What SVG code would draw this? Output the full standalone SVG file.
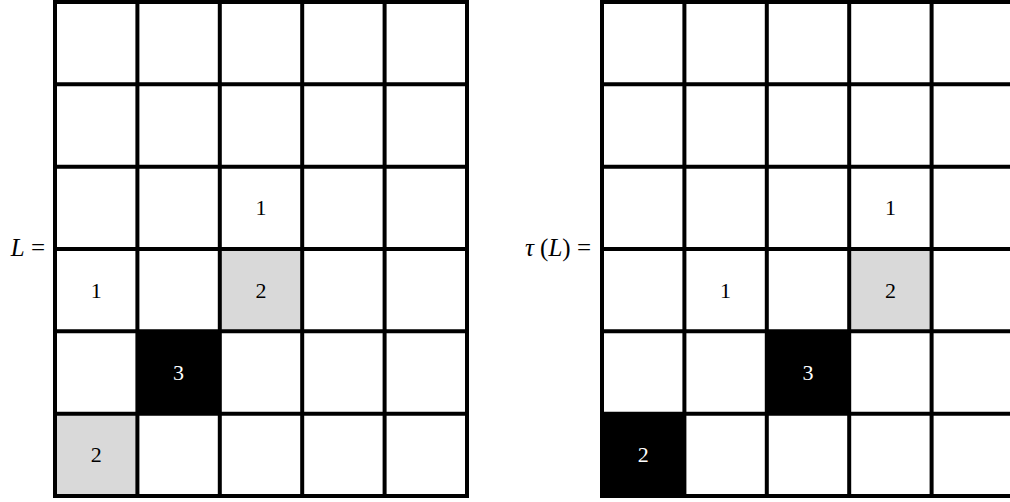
<svg xmlns="http://www.w3.org/2000/svg" width="1010" height="502" viewBox="0 0 1010 502">
<style>
.ln{stroke:#000;stroke-width:4;fill:none}
.num{font-family:"Liberation Serif","DejaVu Serif",serif;font-size:22px;text-anchor:middle}
.lbl{font-family:"Liberation Serif","DejaVu Serif",serif;font-size:25px;text-anchor:end}
.gray{fill:#d9d9d9}
.blk{fill:#000}
.w{fill:#fff}
</style>
<rect width="1010" height="502" fill="#fff"/>
<g id="gridL">
<rect class="gray" x="219.8" y="249" width="82.4" height="82.33"/>
<rect class="blk" x="137.4" y="331.33" width="82.4" height="82.33"/>
<rect class="gray" x="55" y="413.67" width="82.4" height="82.33"/>
<path class="ln" d="M55,0V498M137.4,0V498M219.8,0V498M302.2,0V498M384.6,0V498M467,0V498M53,2H469M53,84.33H469M53,166.67H469M53,249H469M53,331.33H469M53,413.67H469M53,496H469"/>
<text class="num" x="261" y="215">1</text>
<text class="num" x="96.2" y="297.5">1</text>
<text class="num" x="261" y="297.5">2</text>
<text class="num w" x="178.6" y="380">3</text>
<text class="num" x="96.2" y="462">2</text>
</g>
<g id="gridR">
<rect class="gray" x="849.2" y="249" width="82.4" height="82.33"/>
<rect class="blk" x="766.8" y="331.33" width="82.4" height="82.33"/>
<rect class="blk" x="602" y="413.67" width="82.4" height="82.33"/>
<path class="ln" d="M602,0V498M684.4,0V498M766.8,0V498M849.2,0V498M931.6,0V498M1014,0V498M600,2H1016M600,84.33H1016M600,166.67H1016M600,249H1016M600,331.33H1016M600,413.67H1016M600,496H1016"/>
<text class="num" x="890.4" y="215">1</text>
<text class="num" x="725.6" y="297.5">1</text>
<text class="num" x="890.4" y="297.5">2</text>
<text class="num w" x="808" y="380">3</text>
<text class="num w" x="643.2" y="462">2</text>
</g>
<g id="labels">
<text class="lbl" x="45" y="256"><tspan font-style="italic">L</tspan> =</text>
<text class="lbl" x="591" y="256"><tspan font-style="italic">τ</tspan> (<tspan font-style="italic">L</tspan>) =</text>
</g>
</svg>
